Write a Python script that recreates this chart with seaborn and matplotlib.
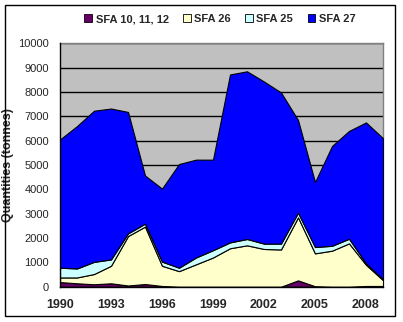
import matplotlib
matplotlib.use("Agg")
import matplotlib.pyplot as plt
import seaborn as sns
import numpy as np
import pandas as pd
from matplotlib.patches import Rectangle

years = list(range(1990, 2010))
sfa_10_11_12 = [190, 140, 100, 140, 50, 110, 30, 0, 0, 0, 0, 0, 0, 0, 260, 20, 0, 0, 30, 30]
sfa_26 = [190, 240, 420, 720, 2030, 2360, 830, 640, 920, 1200, 1580, 1700, 1550, 1530, 2590, 1350, 1480, 1780, 870, 240]
sfa_25 = [400, 370, 500, 260, 110, 120, 170, 140, 280, 300, 240, 260, 220, 240, 190, 260, 200, 190, 60, 30]
sfa_27 = [5270, 5850, 6210, 6200, 4990, 1980, 3000, 4260, 4020, 3720, 6900, 6890, 6660, 6210, 3810, 2670, 4100, 4430, 5790, 5800]
series_names = ["SFA 10, 11, 12", "SFA 26", "SFA 25", "SFA 27"]
colors = ["#660066", "#FFFFCC", "#CCFFFF", "#0000FF"]
y_ticks = list(range(0, 10001, 1000))
x_tick_labels = [1990, 1993, 1996, 1999, 2002, 2005, 2008]

df = pd.DataFrame({"year": years, series_names[0]: sfa_10_11_12, series_names[1]: sfa_26,
                   series_names[2]: sfa_25, series_names[3]: sfa_27})

sns.set_style("white")
plt.rcParams['font.family'] = ['Liberation Sans', 'DejaVu Sans']

W, H = 403, 322
fig = plt.figure(figsize=(W / 100, H / 100), dpi=100)
fig.patch.set_facecolor("white")
# outer chart border
fig.patches.append(Rectangle((5 / W, 1 - 316 / H), (395 - 5) / W, (316 - 5) / H,
                             transform=fig.transFigure, fill=False, edgecolor="black", linewidth=1.0))

left, right, top, bottom = 60, 383, 43.3, 286.7
ax = fig.add_axes([left / W, 1 - bottom / H, (right - left) / W, (bottom - top) / H])
ax.set_facecolor("#C0C0C0")

ax.stackplot(df["year"], [df[n] for n in series_names], colors=colors, labels=series_names,
             edgecolor="black", linewidth=0.8, zorder=3)

ax.set_xlim(1990, 2009)
ax.set_ylim(0, 10000)
ax.set_yticks(y_ticks)
ax.set_yticklabels([str(v) for v in y_ticks], fontsize=8, fontweight="normal")
ax.set_xticks(years)
ax.set_xticklabels([str(y) if y in x_tick_labels else "" for y in years], fontsize=9, fontweight="bold")
ax.grid(axis="y", color="black", linewidth=1.0, zorder=1)
ax.set_axisbelow(True)
ax.tick_params(axis="both", direction="out", length=3, width=1, color="black")
ax.tick_params(axis="y", pad=5)
ax.tick_params(axis="x", pad=6)

for side in ["top", "right"]:
    ax.spines[side].set_color("#808080")
    ax.spines[side].set_linewidth(1)
for side in ["left", "bottom"]:
    ax.spines[side].set_color("black")
    ax.spines[side].set_linewidth(1)
    ax.spines[side].set_zorder(5)

ax.set_ylabel("Quantities (tonnes)", fontsize=9, fontweight="bold")
ax.yaxis.set_label_coords((14 - left) / (right - left), 0.5)
ax.set_xlabel("")

handles = [Rectangle((0, 0), 1, 1, facecolor=c, edgecolor="black", linewidth=0.6) for c in colors]
fig.legend(handles, series_names, loc="center", bbox_to_anchor=(220 / W, 1 - 19 / H), ncol=4,
           frameon=False, prop={"size": 8, "weight": "bold"}, handlelength=0.7, handleheight=0.7,
           handletextpad=0.3, columnspacing=1.3)

fig.savefig("out.png", dpi=100, facecolor="white")
